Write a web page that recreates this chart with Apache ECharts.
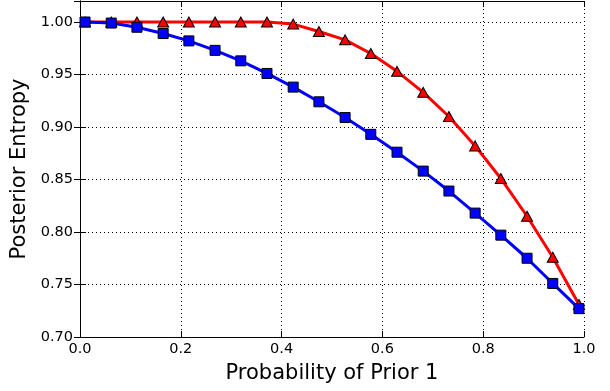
<!DOCTYPE html>
<html>
<head>
<meta charset="utf-8">
<script src="https://cdn.jsdelivr.net/npm/echarts@6/dist/echarts.min.js"></script>
<style>
  html, body { margin: 0; padding: 0; background: #fff; }
  #chart { width: 610px; height: 391px; }
</style>
</head>
<body>
<div id="chart"></div>
<script>
// prior probability of hypothesis 1 (x positions of the markers)
const priorProbs = [0.01, 0.062, 0.113, 0.165, 0.216, 0.268, 0.319, 0.371, 0.423, 0.474,
                    0.526, 0.577, 0.629, 0.681, 0.732, 0.784, 0.835, 0.887, 0.938, 0.99];
// red triangles
const entropyRed = [1.000, 1.000, 1.000, 1.000, 1.000, 1.000, 1.000, 1.000, 0.998, 0.991,
                    0.983, 0.970, 0.953, 0.933, 0.910, 0.882, 0.851, 0.815, 0.776, 0.731];
// blue squares
const entropyBlue = [1.000, 0.999, 0.995, 0.989, 0.982, 0.973, 0.963, 0.951, 0.938, 0.924,
                     0.909, 0.893, 0.876, 0.858, 0.839, 0.818, 0.797, 0.775, 0.751, 0.727];

const xTicks = { min: 0, max: 1, interval: 0.2 };
const yTicks = { min: 0.70, max: 1.02, interval: 0.05 };

const font = 'DejaVu Sans';

const chart = echarts.init(document.getElementById('chart'));

const tickStyle = { show: true, inside: true, length: 6, lineStyle: { color: '#000', width: 1 } };
const lineStyle = { show: true, lineStyle: { color: '#000', width: 1 } };
const gridLine = { show: true, lineStyle: { color: '#000', width: 1, type: [1, 3] } };

const option = {
  animation: false,
  backgroundColor: '#fff',
  grid: { left: 80, right: 26, top: 1, bottom: 54, containLabel: false },
  xAxis: [
    {
      type: 'value',
      ...xTicks,
      position: 'bottom',
      name: 'Probability of Prior 1',
      nameLocation: 'middle',
      nameGap: 26,
      nameTextStyle: { fontFamily: font, fontSize: 21, color: '#000' },
      axisLine: lineStyle,
      axisTick: tickStyle,
      splitLine: gridLine,
      axisLabel: {
        margin: 5,
        fontFamily: font, fontSize: 14.5, color: '#000',
        formatter: v => v.toFixed(1)
      }
    },
    {
      type: 'value',
      ...xTicks,
      position: 'top',
      axisLine: lineStyle,
      axisTick: tickStyle,
      splitLine: { show: false },
      axisLabel: { show: false }
    }
  ],
  yAxis: [
    {
      type: 'value',
      ...yTicks,
      position: 'left',
      name: 'Posterior Entropy',
      nameLocation: 'middle',
      nameGap: 46,
      nameTextStyle: { fontFamily: font, fontSize: 21, color: '#000' },
      axisLine: lineStyle,
      axisTick: tickStyle,
      splitLine: gridLine,
      axisLabel: {
        margin: 7, showMaxLabel: false,
        fontFamily: font, fontSize: 14.5, color: '#000',
        formatter: v => v.toFixed(2)
      }
    },
    {
      type: 'value',
      ...yTicks,
      position: 'right',
      axisLine: lineStyle,
      axisTick: tickStyle,
      splitLine: { show: false },
      axisLabel: { show: false }
    }
  ],
  series: [
    {
      name: 'red',
      type: 'line',
      data: priorProbs.map((p, i) => [p, entropyRed[i]]),
      symbol: 'triangle',
      symbolSize: [11, 10],
      lineStyle: { color: '#ff0000', width: 3 },
      itemStyle: { color: '#ff0000', borderColor: '#000', borderWidth: 1 },
      z: 3
    },
    {
      name: 'blue',
      type: 'line',
      data: priorProbs.map((p, i) => [p, entropyBlue[i]]),
      symbol: 'rect',
      symbolSize: 10,
      lineStyle: { color: '#0000ff', width: 3 },
      itemStyle: { color: '#0000ff', borderColor: '#000', borderWidth: 1 },
      z: 4
    }
  ]
};

chart.setOption(option);
</script>
</body>
</html>
